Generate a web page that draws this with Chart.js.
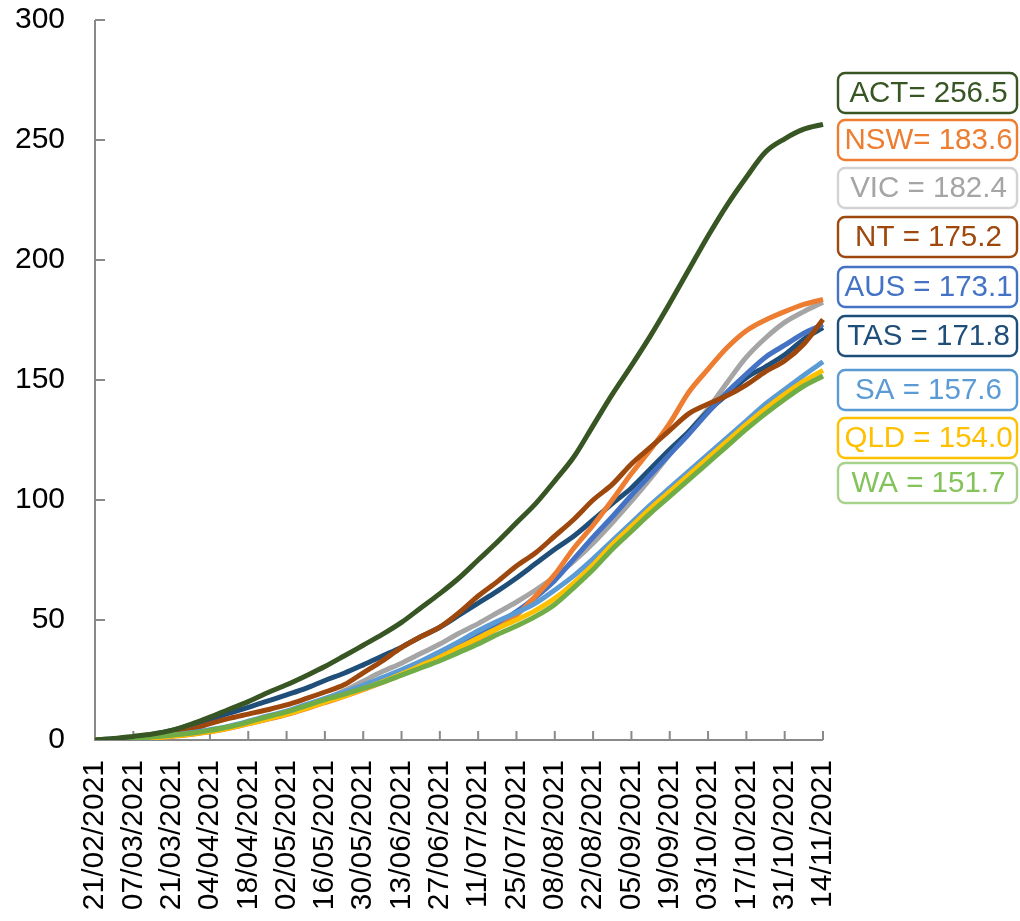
<!DOCTYPE html>
<html>
<head>
<meta charset="utf-8">
<script src="https://cdn.jsdelivr.net/npm/chart.js@4.4.0/dist/chart.umd.min.js"></script>
<style>
  html, body { margin: 0; padding: 0; background: #fff; }
</style>
</head>
<body>
<canvas id="doseChart" width="1020" height="921"></canvas>
<script>
/* --------------- Data: doses per 100 people, weekly --------------------- */
const dates = [
  "21/02/2021", "28/02/2021", "07/03/2021", "14/03/2021", "21/03/2021", "28/03/2021",
  "04/04/2021", "11/04/2021", "18/04/2021", "25/04/2021", "02/05/2021", "09/05/2021",
  "16/05/2021", "23/05/2021", "30/05/2021", "06/06/2021", "13/06/2021", "20/06/2021",
  "27/06/2021", "04/07/2021", "11/07/2021", "18/07/2021", "25/07/2021", "01/08/2021",
  "08/08/2021", "15/08/2021", "22/08/2021", "29/08/2021", "05/09/2021", "12/09/2021",
  "19/09/2021", "26/09/2021", "03/10/2021", "10/10/2021", "17/10/2021", "24/10/2021",
  "31/10/2021", "07/11/2021", "14/11/2021"
];
const act = [0, 0.6, 1.5, 2.5, 4, 6.5, 9.5, 12.8, 16, 19.7, 23, 26.7, 30.6, 35, 39.5, 44, 49, 55, 61, 67.5,
  75, 82.5, 90.5, 98.5, 108, 118, 131, 144, 156, 168.5, 182, 196, 210, 223, 234.5, 245, 250.5, 254.5, 256.5];
const nsw = [0, 0.1, 0.3, 0.8, 1.5, 2.3, 3.4, 4.9, 6.7, 8.6, 10.6, 13, 15.6, 18.2, 21, 24, 27.2, 30.6, 34, 38,
  42.2, 46.5, 52, 60, 69, 80, 89.5, 100, 111, 121, 132, 145, 154.5, 163.5, 170.5, 175, 178.5, 181.5, 183.6];
const vic = [0, 0.1, 0.4, 0.9, 1.7, 2.6, 3.8, 5.3, 7.2, 9.3, 11.5, 14, 17, 20.5, 24.5, 28.5, 32, 36, 40, 44.5,
  48.5, 53, 57.5, 62.5, 68, 74.5, 82, 90.5, 99.5, 109, 119, 128.5, 138, 149, 159.5, 167.5, 174, 178.5, 182.4];
const nt = [0, 0.1, 0.5, 1.2, 2.5, 4.3, 6.8, 9, 10.8, 12.6, 14.6, 17.2, 20, 23, 28, 33, 38.5, 43, 47, 53,
  60, 66, 72.5, 78, 85, 92, 100, 106.5, 115, 122, 129, 136, 140, 143.5, 148, 153.5, 158, 165, 175.2];
const aus = [0, 0.1, 0.4, 0.9, 1.7, 2.6, 3.8, 5.3, 7.1, 9.2, 11.3, 13.8, 16.5, 19.3, 22.3, 25.5, 28.8, 32.3, 35.8, 39.8,
  44, 48.5, 53.5, 59.5, 66.5, 75.5, 84.5, 93, 102, 110.5, 119, 127.5, 136.5, 145, 152.5, 159.5, 164.5, 169.5, 173.1];
const tas = [0, 0.5, 1.2, 2.3, 4, 6.3, 8.6, 11.2, 13.6, 16.2, 18.8, 21.5, 24.8, 27.8, 31.3, 35, 38.7, 43, 47, 52,
  57, 62, 67.5, 73.5, 79.5, 85, 91.7, 98.5, 105, 113, 121, 128.5, 137, 144, 151, 155.5, 160.5, 167, 171.8];
const sa = [0, 0.2, 0.6, 1.2, 2, 3, 4.3, 5.8, 7.8, 10, 12, 14.7, 17.3, 20, 22.8, 26, 29.3, 32.8, 36.8, 41,
  45.5, 49.5, 53, 57, 62.5, 68.5, 75.5, 83, 90.5, 98, 105, 112, 119, 126, 133, 140, 146, 152, 157.6];
const qld = [0, 0.1, 0.4, 0.9, 1.6, 2.4, 3.5, 5, 6.8, 8.8, 10.8, 13.2, 15.8, 18.3, 21.2, 24.2, 27.5, 31, 34.5, 38.5,
  42.5, 46.5, 50, 54, 59, 65.5, 73, 81.5, 89, 96.5, 103.5, 110.5, 117.5, 124.5, 131.5, 138, 144, 149.5, 154];
const wa = [0, 0.2, 0.6, 1.2, 2, 2.8, 4, 5.5, 7.5, 9.7, 11.7, 14.2, 16.8, 19, 21.5, 24, 27, 30, 33, 36.5,
  40, 44, 47.5, 51.5, 56.5, 63.5, 71, 79.5, 87, 94.5, 101.5, 108.5, 115.5, 122.5, 129.5, 136, 142, 147.5, 151.7];
const yTicks = [0, 50, 100, 150, 200, 250, 300];
const endLabels = ["ACT= 256.5", "NSW= 183.6", "VIC = 182.4", "NT = 175.2", "AUS = 173.1",
  "TAS = 171.8", "SA = 157.6", "QLD = 154.0", "WA = 151.7"];

/* --------------- Colours --------------------- */
const axisColor = "#898989";
const FONT = '"Liberation Sans", Arial, sans-serif';
// label boxes, top to bottom (same order as endLabels)
const boxText = ["#375623", "#ED7D31", "#A5A5A5", "#9E480E", "#4472C4", "#1F4E79", "#5B9BD5", "#FFC000", "#84C25A"];
const boxLine = ["#375623", "#ED7D31", "#D3D3D3", "#9E480E", "#4472C4", "#1F4E79", "#5B9BD5", "#FFC000", "#A9D18E"];
const boxTops = [73, 120, 168, 217, 267, 316, 370, 418, 463];

const line = (data, color) => ({
  data: data,
  borderColor: color,
  borderWidth: 5,
  pointRadius: 0,
  cubicInterpolationMode: "monotone",
  fill: false,
});

/* --------------- Inside tick marks + axis lines (Excel style) --------------------- */
const axesPlugin = {
  id: "insideAxes",
  beforeDatasetsDraw(chart) {
    const { ctx, chartArea: a, scales } = chart;
    ctx.save();
    ctx.strokeStyle = axisColor;
    ctx.lineWidth = 2;
    ctx.beginPath();
    ctx.moveTo(a.left, a.top);
    ctx.lineTo(a.left, a.bottom);
    ctx.lineTo(a.right, a.bottom);
    yTicks.forEach((v) => {
      const py = scales.y.getPixelForValue(v);
      ctx.moveTo(a.left, py);
      ctx.lineTo(a.left + 10, py);
    });
    dates.forEach((d, i) => {
      if (i % 2 === 0 && i > 0) {
        const px = scales.x.getPixelForValue(i);
        ctx.moveTo(px, a.bottom);
        ctx.lineTo(px, a.bottom - 9);
      }
    });
    ctx.stroke();
    ctx.restore();
  },
};

/* --------------- End value boxes on the right --------------------- */
function roundBox(ctx, x, y, w, h, r) {
  ctx.beginPath();
  ctx.moveTo(x + r, y);
  ctx.arcTo(x + w, y, x + w, y + h, r);
  ctx.arcTo(x + w, y + h, x, y + h, r);
  ctx.arcTo(x, y + h, x, y, r);
  ctx.arcTo(x, y, x + w, y, r);
  ctx.closePath();
}
const boxPlugin = {
  id: "endBoxes",
  afterDraw(chart) {
    const ctx = chart.ctx;
    ctx.save();
    ctx.font = "29.5px " + FONT;
    ctx.textAlign = "center";
    ctx.textBaseline = "middle";
    endLabels.forEach((t, i) => {
      const x = 838, w = 179, h = 40, y = boxTops[i];
      roundBox(ctx, x, y, w, h, 7);
      ctx.fillStyle = "#ffffff";
      ctx.fill();
      ctx.lineWidth = 2.4;
      ctx.strokeStyle = boxLine[i];
      ctx.stroke();
      ctx.fillStyle = boxText[i];
      ctx.fillText(t, x + w / 2 + 1, y + h / 2 + 1);
    });
    ctx.restore();
  },
};

const noPad = (s) => {
  s.paddingTop = 0;
  s.paddingBottom = 0;
  s.paddingLeft = 0;
  s.paddingRight = 0;
};

/* --------------- Chart --------------------- */
// first dataset is drawn on top
new Chart(document.getElementById("doseChart"), {
  type: "line",
  plugins: [axesPlugin, boxPlugin],
  data: {
    labels: dates,
    datasets: [
      line(act, "#375623"),
      line(wa, "#70AD47"),
      line(qld, "#FFC000"),
      line(sa, "#5B9BD5"),
      line(nt, "#9E480E"),
      line(nsw, "#ED7D31"),
      line(aus, "#4472C4"),
      line(tas, "#1F4E79"),
      line(vic, "#A5A5A5"),
    ],
  },
  options: {
    responsive: false,
    animation: false,
    layout: { padding: { top: 20, right: 197, left: 0, bottom: 0 } },
    plugins: { legend: { display: false }, tooltip: { enabled: false } },
    scales: {
      x: {
        type: "category",
        offset: false,
        grid: { display: false, drawTicks: false },
        border: { display: false },
        afterFit: (s) => { s.height = 181; noPad(s); },
        ticks: {
          autoSkip: false,
          maxRotation: 90,
          minRotation: 90,
          padding: 20,
          color: "#000",
          font: { family: FONT, size: 30 },
          callback: (v, i) => (i % 2 === 0 ? dates[i] : ""),
        },
      },
      y: {
        min: 0,
        max: 300,
        grid: { display: false, drawTicks: false },
        border: { display: false },
        afterFit: (s) => { s.width = 95; noPad(s); },
        ticks: {
          stepSize: 50,
          padding: 30,
          color: "#000",
          font: { family: FONT, size: 30 },
        },
      },
    },
  },
});
</script>
</body>
</html>
